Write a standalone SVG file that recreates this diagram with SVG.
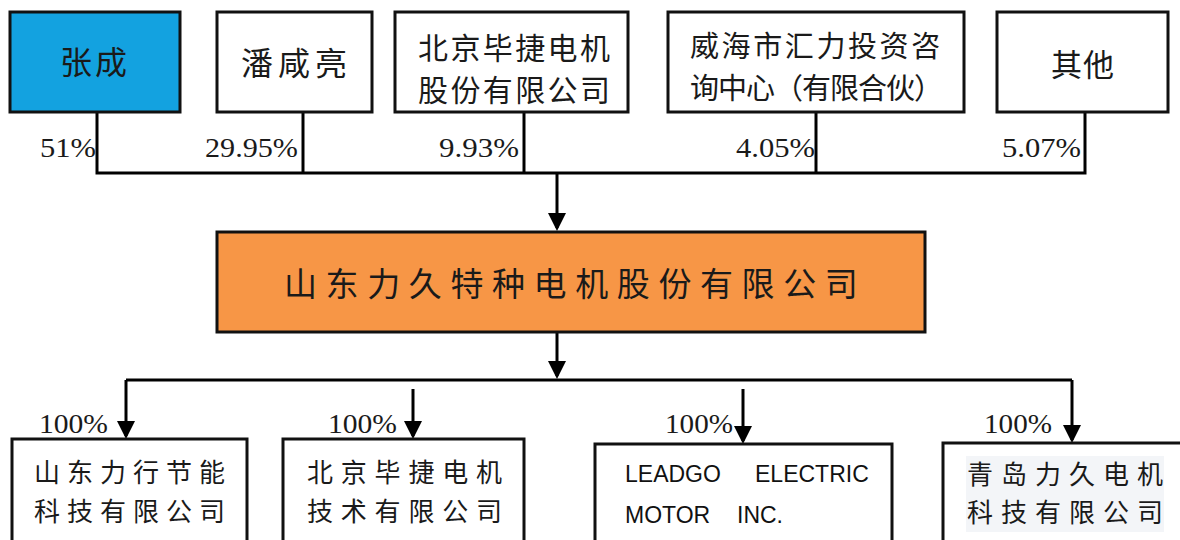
<svg xmlns="http://www.w3.org/2000/svg" width="1180" height="540" viewBox="0 0 1180 540">
<defs>
<style>
.box{stroke:#111;stroke-width:3}
.white{fill:#fff}
.cjk{font-family:"Noto Sans CJK SC","Noto Sans CJK JP",sans-serif;fill:#1a1a1a}
.pct{font-family:"Liberation Serif","Times New Roman",serif;font-size:27px;fill:#1a1a1a}
.lat{font-family:"Liberation Sans",Arial,sans-serif;font-size:23px;fill:#111}
.conn{stroke:#000;stroke-width:3;fill:none}
</style>
<marker id="ah" viewBox="0 0 18 18" markerWidth="18" markerHeight="18" refX="15" refY="9" orient="auto" markerUnits="userSpaceOnUse">
<path d="M0,0 L18,9 L0,18 z" fill="#000"/>
</marker>
</defs>
<rect width="1180" height="540" fill="#fff"/>

<g id="connectors">
<path class="conn" d="M97,112 V173 H1085 V112"/>
<path class="conn" d="M303,112 V173"/>
<path class="conn" d="M524,112 V173"/>
<path class="conn" d="M816,112 V173"/>
<path class="conn" d="M557,173 V228" marker-end="url(#ah)"/>
<path class="conn" d="M557,332 V376" marker-end="url(#ah)"/>
<path class="conn" d="M126,380 H1072"/>
<path class="conn" d="M126,380 V436" marker-end="url(#ah)"/>
<path class="conn" d="M413,389 V436" marker-end="url(#ah)"/>
<path class="conn" d="M743,389 V441" marker-end="url(#ah)"/>
<path class="conn" d="M1072,380 V440" marker-end="url(#ah)"/>
</g>

<g id="labels">
<text class="pct" x="40" y="157" textLength="56" lengthAdjust="spacingAndGlyphs">51%</text>
<text class="pct" x="205" y="157" textLength="93" lengthAdjust="spacingAndGlyphs">29.95%</text>
<text class="pct" x="439" y="157" textLength="80" lengthAdjust="spacingAndGlyphs">9.93%</text>
<text class="pct" x="736" y="157" textLength="79" lengthAdjust="spacingAndGlyphs">4.05%</text>
<text class="pct" x="1002" y="157" textLength="79" lengthAdjust="spacingAndGlyphs">5.07%</text>
<text class="pct" x="39" y="433" textLength="69" lengthAdjust="spacingAndGlyphs">100%</text>
<text class="pct" x="328" y="433" textLength="69" lengthAdjust="spacingAndGlyphs">100%</text>
<text class="pct" x="665" y="433" textLength="68" lengthAdjust="spacingAndGlyphs">100%</text>
<text class="pct" x="984" y="433" textLength="68" lengthAdjust="spacingAndGlyphs">100%</text>
</g>

<g id="node-zhangcheng">
<rect class="box" x="10" y="12" width="170" height="100" fill="#13a2e0"/>
<text class="cjk" x="60" y="74" font-size="32" letter-spacing="3">张成</text>
</g>
<g id="node-panxianliang">
<rect class="box white" x="217" y="12" width="155" height="100"/>
<text class="cjk" x="241" y="75" font-size="32" letter-spacing="5">潘咸亮</text>
</g>
<g id="node-bjbj-gufen">
<rect class="box white" x="395" y="12" width="233" height="100"/>
<text class="cjk" x="418" y="59" font-size="30" letter-spacing="2.4">北京毕捷电机</text>
<text class="cjk" x="418" y="101" font-size="30" letter-spacing="2.4">股份有限公司</text>
</g>
<g id="node-weihai">
<rect class="box white" x="668" y="12" width="296" height="100"/>
<text class="cjk" x="690" y="57" font-size="29" letter-spacing="2.6">威海市汇力投资咨</text>
<text class="cjk" x="690" y="99" font-size="29" letter-spacing="-1">询中心（有限合伙）</text>
</g>
<g id="node-qita">
<rect class="box white" x="997" y="12" width="171" height="100"/>
<text class="cjk" x="1051" y="76" font-size="31" letter-spacing="1">其他</text>
</g>

<g id="node-main">
<rect class="box" x="217" y="232" width="708" height="100" fill="#f79646"/>
<text class="cjk" x="284" y="296" font-size="33" letter-spacing="8.6">山东力久特种电机股份有限公司</text>
</g>

<g id="node-sdlx">
<rect class="box white" x="12" y="439" width="235" height="130"/>
<text class="cjk" x="34" y="482" font-size="26" letter-spacing="7">山东力行节能</text>
<text class="cjk" x="34" y="521" font-size="26" letter-spacing="7">科技有限公司</text>
</g>
<g id="node-bjbj-jishu">
<rect class="box white" x="283" y="439" width="241" height="130"/>
<text class="cjk" x="307" y="482" font-size="26" letter-spacing="7.8">北京毕捷电机</text>
<text class="cjk" x="307" y="521" font-size="26" letter-spacing="7.8">技术有限公司</text>
</g>
<g id="node-leadgo">
<rect class="box white" x="595" y="444" width="297" height="130"/>
<text class="lat" y="482"><tspan x="625">LEADGO </tspan><tspan x="755">ELECTRIC</tspan></text>
<text class="lat" y="523"><tspan x="625">MOTOR </tspan><tspan x="737">INC.</tspan></text>
</g>
<g id="node-qingdao">
<rect class="box white" x="943" y="443" width="270" height="130"/>
<rect x="966" y="456" width="198" height="76" fill="#f3f5f8"/>
<text class="cjk" x="967" y="484" font-size="26" letter-spacing="8">青岛力久电机</text>
<text class="cjk" x="967" y="522" font-size="26" letter-spacing="8">科技有限公司</text>
</g>
</svg>
